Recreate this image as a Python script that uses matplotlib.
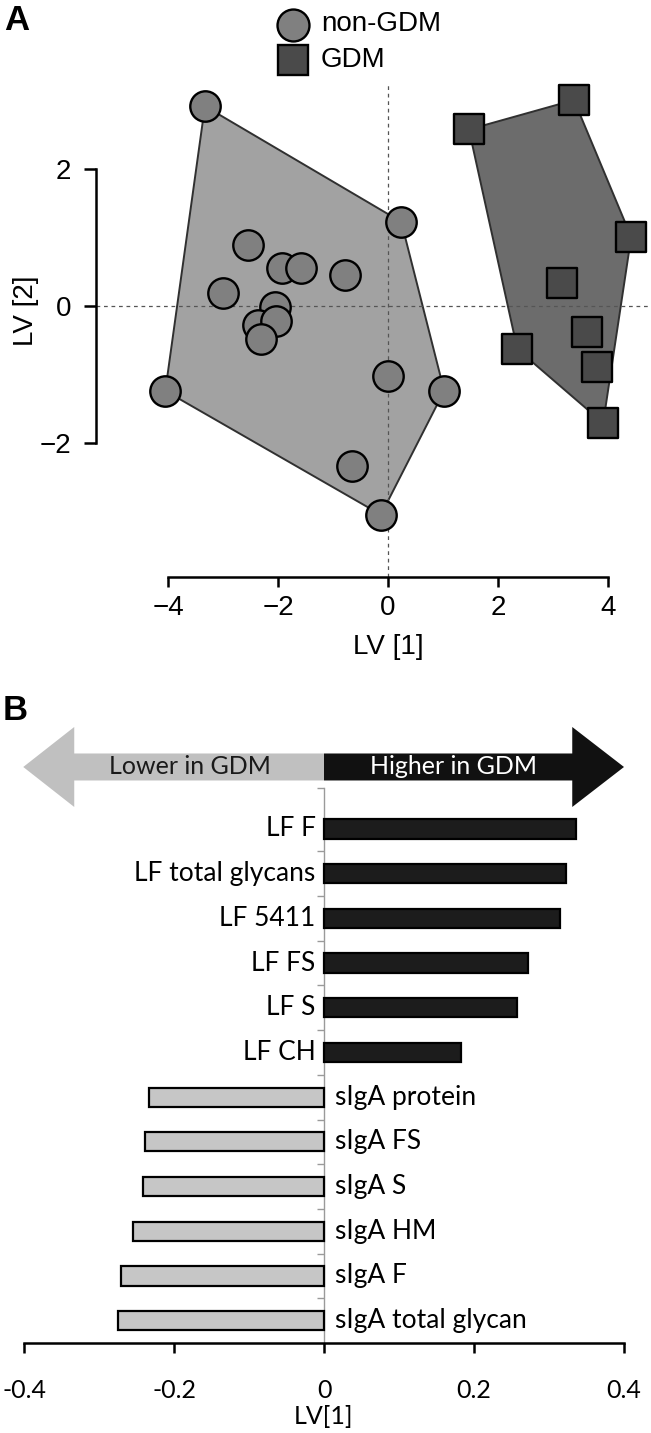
import numpy as np
import matplotlib
matplotlib.use("Agg")
import matplotlib.pyplot as plt
from matplotlib.patches import Polygon, FancyArrow
from matplotlib.lines import Line2D

W, H = 651, 1433

# Panel A: PLS-DA scores
non_gdm_x = [-3.33, 0.24, -2.55, -1.93, -1.58, -0.78, -3.00, -2.05,
             -2.36, -2.04, -2.31, -4.05, 0.00, 1.02, -0.65, -0.13]
non_gdm_y = [2.92, 1.23, 0.89, 0.55, 0.55, 0.45, 0.19, -0.01,
             -0.28, -0.22, -0.48, -1.24, -1.02, -1.24, -2.34, -3.05]
gdm_x = [1.47, 3.38, 4.42, 3.16, 3.62, 2.35, 3.80, 3.91]
gdm_y = [2.58, 3.01, 1.01, 0.34, -0.38, -0.63, -0.89, -1.71]

# Panel B: loadings on LV[1]
loading_labels = ["LF F", "LF total glycans", "LF 5411", "LF FS", "LF S", "LF CH",
                  "sIgA protein", "sIgA FS", "sIgA S", "sIgA HM", "sIgA F",
                  "sIgA total glycan"]
loading_values = [0.336, 0.323, 0.314, 0.272, 0.257, 0.183,
                  -0.233, -0.239, -0.241, -0.255, -0.271, -0.275]
b_ticks = [-0.4, -0.2, 0, 0.2, 0.4]
b_tick_labels = ["-0.4", "-0.2", "0", "0.2", "0.4"]

fig = plt.figure(figsize=(W / 100, H / 100), dpi=100)


def px_axes(x0, y0, x1, y1):
    return fig.add_axes([x0 / W, 1 - y1 / H, (x1 - x0) / W, (y1 - y0) / H])


def convex_hull(xs, ys):
    pts = sorted(set(zip(xs, ys)))

    def cross(o, a, b):
        return (a[0] - o[0]) * (b[1] - o[1]) - (a[1] - o[1]) * (b[0] - o[0])

    lower, upper = [], []
    for p in pts:
        while len(lower) >= 2 and cross(lower[-2], lower[-1], p) <= 0:
            lower.pop()
        lower.append(p)
    for p in reversed(pts):
        while len(upper) >= 2 and cross(upper[-2], upper[-1], p) <= 0:
            upper.pop()
        upper.append(p)
    return lower[:-1] + upper[:-1]


# ---------------- Panel A ----------------
fa = "Liberation Sans"
ax = px_axes(96, 85, 651, 577)
ax.set_xlim(-5.31, 4.78)
ax.set_ylim(-3.96, 3.23)

ax.add_patch(Polygon(convex_hull(non_gdm_x, non_gdm_y), closed=True,
                     facecolor="#a2a2a2", edgecolor="#303030", lw=1.4, zorder=1))
ax.add_patch(Polygon(convex_hull(gdm_x, gdm_y), closed=True,
                     facecolor="#6c6c6c", edgecolor="#303030", lw=1.4, zorder=1))
ax.axhline(0, color="#555555", lw=0.9, dashes=(3, 3), zorder=2)
ax.axvline(0, color="#555555", lw=0.9, dashes=(3, 3), zorder=2)

ax.scatter(non_gdm_x, non_gdm_y, s=480, marker="o", facecolor="#808080",
           edgecolor="black", linewidth=1.7, zorder=3, clip_on=False)
ax.scatter(gdm_x, gdm_y, s=460, marker="s", facecolor="#4a4a4a",
           edgecolor="black", linewidth=1.7, zorder=3, clip_on=False)

for s in ["top", "right"]:
    ax.spines[s].set_visible(False)
ax.spines["left"].set_bounds(-2, 2)
ax.spines["bottom"].set_bounds(-4, 4)
for s in ["left", "bottom"]:
    ax.spines[s].set_linewidth(1.8)
ax.set_xticks([-4, -2, 0, 2, 4])
ax.set_xticklabels(["\u22124", "\u22122", "0", "2", "4"])
ax.set_yticks([-2, 0, 2])
ax.set_yticklabels(["\u22122", "0", "2"])
ax.tick_params(axis="x", length=7, width=1.8, pad=6, labelsize=20)
ax.tick_params(axis="y", length=9, width=1.8, pad=9, labelsize=20)
for lab in ax.get_xticklabels() + ax.get_yticklabels():
    lab.set_fontfamily(fa)
ax.set_xlabel("LV [1]", fontsize=20, family=fa)
ax.set_ylabel("LV [2]", fontsize=20, family=fa)
ax.xaxis.set_label_coords((388 - 96) / 555, (577 - 647) / 492)
ax.yaxis.set_label_coords((26 - 96) / 555, (577 - 311) / 492)
ax.xaxis.label.set_va("center")
ax.yaxis.label.set_va("center")

# legend
fig.add_artist(Line2D([293 / W], [1 - 25 / H], marker="o", markersize=23,
                      markerfacecolor="#808080", markeredgecolor="black",
                      markeredgewidth=1.7, transform=fig.transFigure))
fig.add_artist(Line2D([293 / W], [1 - 60 / H], marker="s", markersize=21.5,
                      markerfacecolor="#4a4a4a", markeredgecolor="black",
                      markeredgewidth=1.7, transform=fig.transFigure))
fig.text(321 / W, 1 - 24 / H, "non-GDM", fontsize=20, family=fa, va="center")
fig.text(321 / W, 1 - 60 / H, "GDM", fontsize=20, family=fa, va="center")

fig.text(4 / W, 1 - 4 / H, "A", fontsize=25, weight="bold", family=fa, va="top")

# ---------------- Panel B ----------------
fb = "Lato"
bx = px_axes(24, 715, 624, 1343)
pos = np.arange(len(loading_labels))
bx.set_xlim(-0.4, 0.4)
bx.set_ylim(11.5, -2.55)

colors = ["#1c1c1c" if v > 0 else "#c6c6c6" for v in loading_values]
bx.barh(pos, loading_values, height=0.43, color=colors, edgecolor="black",
        linewidth=1.6, zorder=2)

for p, lab, v in zip(pos, loading_labels, loading_values):
    if v > 0:
        bx.annotate(lab, (0, p), xytext=(-6, 0), textcoords="offset points",
                    ha="right", va="center", fontsize=19, family=fb)
    else:
        bx.annotate(lab, (0, p), xytext=(8, 0), textcoords="offset points",
                    ha="left", va="center", fontsize=19, family=fb)

# direction arrows
arrow_y = -1.387
bx.add_patch(FancyArrow(0, arrow_y, -0.401, 0, width=0.604, head_width=1.79,
                        head_length=0.068, length_includes_head=True,
                        color="#c0c0c0", lw=0, clip_on=False))
bx.add_patch(FancyArrow(0, arrow_y, 0.4, 0, width=0.604, head_width=1.79,
                        head_length=0.069, length_includes_head=True,
                        color="#111111", lw=0, clip_on=False))
bx.text(-0.179, arrow_y, "Lower in GDM", ha="center", va="center",
        fontsize=18, family=fb, color="#1a1a1a")
bx.text(0.172, arrow_y, "Higher in GDM", ha="center", va="center",
        fontsize=18, family=fb, color="white")

for s in ["top", "right"]:
    bx.spines[s].set_visible(False)
bx.spines["left"].set_position(("data", 0))
bx.spines["left"].set_bounds(11.5, -0.917)
bx.spines["left"].set_color("#9a9a9a")
bx.spines["left"].set_linewidth(1.0)
bx.spines["left"].set_zorder(1)
bx.set_yticks(list(pos[:-1] + 0.5) + [-0.917])
bx.set_yticklabels([])
bx.tick_params(axis="y", length=5, width=1.0, color="#9a9a9a", direction="out")

bx.spines["bottom"].set_linewidth(1.8)
bx.set_xticks(b_ticks)
bx.set_xticklabels(b_tick_labels)
bx.tick_params(axis="x", length=7, width=1.8, pad=19, labelsize=18)
for lab in bx.get_xticklabels():
    lab.set_fontfamily(fb)
bx.set_xlabel("LV[1]", fontsize=18, family=fb)
bx.xaxis.set_label_coords(0.5, (1343 - 1417) / 628)
bx.xaxis.label.set_va("center")

fig.text(3 / W, 1 - 694 / H, "B", fontsize=25, weight="bold", family=fa, va="top")

fig.savefig("out.png", dpi=100)
